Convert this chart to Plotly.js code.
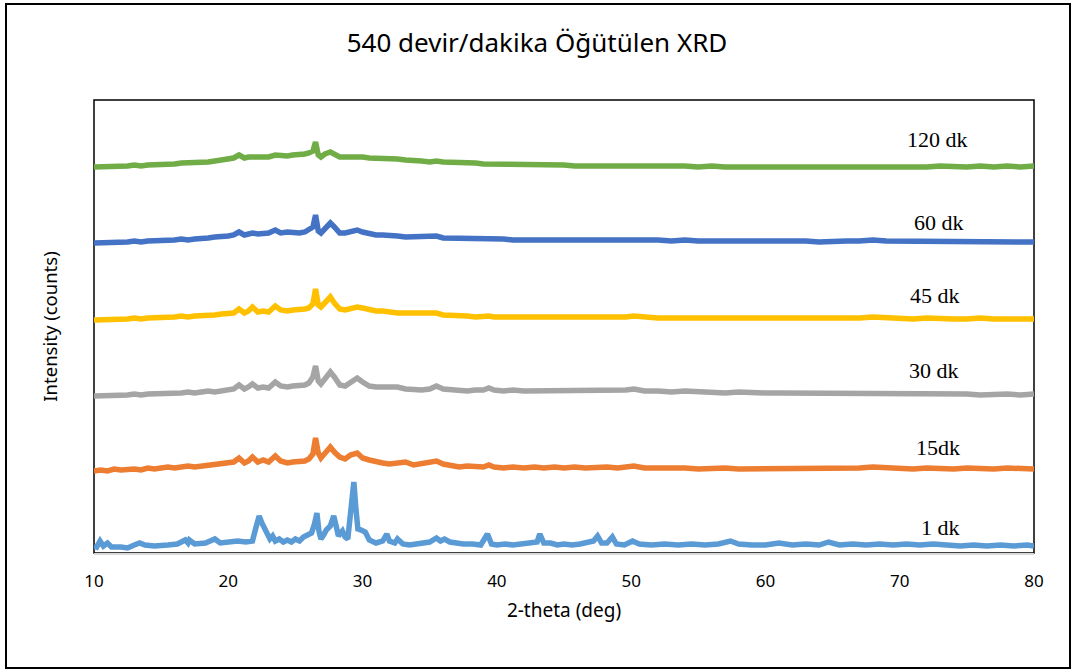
<!DOCTYPE html>
<html><head><meta charset="utf-8">
<script src="https://cdn.plot.ly/plotly-3.0.1.min.js"></script>
<style>
html,body{margin:0;padding:0;background:#fff;}
#chart{width:1074px;height:670px;}
#frame{position:absolute;left:5px;top:3px;width:1062px;height:662px;border:2px solid #000;pointer-events:none;}
</style>
</head><body>
<div id="chart"></div><div id="frame"></div>
<script>
// 2-theta grid shared by the milled samples
const twoTheta = [
 10,10.5,11,11.5,12,12.5,13,13.5,14,14.5,15,15.5,16,16.5,17,17.5,18,18.5,19,19.5,
 20,20.4,20.8,21.2,21.5,21.8,22.2,22.6,23.0,23.5,
 23.9,24.4,24.8,25.3,25.7,26.0,26.3,26.5,26.7,26.9,
 27.2,27.6,27.9,28.3,28.7,29.1,29.6,30.0,30.5,31.0,
 31.5,32.0,32.6,33.2,33.8,34.4,35.0,35.5,36.0,36.6,
 37.2,37.8,38.4,39.0,39.4,39.8,40.5,41.2,42.0,42.8,
 43.5,44.3,45.0,45.8,46.6,47.4,48.2,49.0,49.6,50.2,
 51,52,53,54,55,56,57,58,59,60,
 61,62,63,64,65,66,67,68,69,70,
 71,72,73,74,75,76,77,78,79,80
];
const y15 = [
 82,83,82,84,83,84,84,83,85,84,85,86,85,86,87,86,87,88,88,89,
 90,91,95,90,92,96,91,93,91,97,
 92,90,91,92,92,94,99,115,100,95,
 99,106,101,96,94,98,100,95,93,91,
 90,89,90,91,88,89,90,92,89,87,
 86,87,86,86,88,86,85,86,85,86,
 85,86,85,86,85,86,86,85,86,87,
 85,85,86,85,84,85,85,84,84,85,
 84,85,84,84,85,84,85,86,85,84,
 84,85,84,84,85,84,84,85,84,84
];
const y30 = [
 157,157,158,157,158,158,159,158,159,159,160,159,160,160,161,160,161,162,161,162,
 163,164,168,164,166,169,165,166,165,171,
 167,166,167,167,168,170,176,187,172,169,
 174,181,176,168,167,170,175,171,167,166,
 166,165,166,164,163,163,164,167,164,163,
 163,162,163,163,165,163,162,163,162,162,
 162,163,162,162,163,162,163,162,163,164,
 162,162,161,162,161,161,160,161,160,160,
 160,160,159,160,160,159,160,159,159,160,
 159,159,160,159,159,158,159,159,158,159
];
const y45 = [
 233,233,234,233,234,234,235,234,235,235,236,235,236,237,236,237,237,238,238,239,
 239,240,244,240,242,246,241,242,241,247,
 243,242,243,243,244,245,249,264,248,246,
 250,256,250,244,243,244,246,245,243,242,
 242,241,240,240,240,239,239,240,238,238,
 237,237,236,237,237,236,236,236,235,236,
 235,236,235,235,236,235,235,236,236,237,
 236,235,235,235,234,235,234,235,234,235,
 234,235,234,234,235,234,235,236,235,234,
 234,235,234,234,234,235,234,234,234,234
];
const y60 = [
 310,310,311,310,311,311,312,311,312,312,313,312,313,314,313,314,314,315,316,316,
 317,318,321,318,319,320,319,319,320,323,
 320,321,320,320,321,323,326,338,322,320,
 325,330,326,320,320,321,323,321,319,318,
 318,317,317,316,316,316,316,317,315,315,
 315,314,314,314,315,314,314,313,313,314,
 313,313,313,314,313,313,313,313,313,314,
 313,313,312,313,312,312,313,312,312,312,
 312,312,312,311,312,312,312,313,312,312,
 311,312,311,311,312,311,311,311,311,311
];
const y120 = [
 386,386,386,387,387,387,388,387,388,388,389,389,389,390,390,390,391,391,392,393,
 394,395,398,395,396,396,396,397,396,398,
 397,397,398,398,399,400,402,411,398,396,
 399,401,399,396,396,396,397,396,395,395,
 395,394,394,393,393,392,391,392,391,391,
 390,390,390,389,389,389,389,388,388,388,
 388,388,388,387,387,387,387,387,387,388,
 387,387,387,387,386,387,386,386,386,386,
 386,386,386,386,385,386,386,386,386,386,
 386,386,387,386,386,387,386,387,386,387
];
// 1 dk sample (crystalline peaks)
const twoTheta1 = [
 10.0,10.2,10.45,10.7,11.0,11.3,12.0,12.5,13.0,13.4,13.8,14.5,15.5,16.2,16.8,17.0,17.1,17.5,18.3,19.0,
 19.4,20.0,20.7,21.3,21.8,22.05,22.3,22.5,22.7,22.9,23.1,23.3,23.5,23.8,24.1,24.4,24.7,25.0,25.3,25.6,
 25.9,26.2,26.4,26.6,26.75,26.9,27.1,27.3,27.6,27.85,28.05,28.2,28.5,28.7,28.9,29.15,29.35,29.5,29.65,29.9,
 30.2,30.5,31.0,31.5,31.8,32.0,32.4,32.6,33.0,33.5,34.0,34.5,35.0,35.5,35.8,36.1,36.5,37.0,37.5,38.2,
 38.8,39.3,39.6,40.0,40.6,41.2,41.8,42.5,43.0,43.2,43.5,44.0,44.5,45.0,45.6,46.2,46.8,47.2,47.5,47.8,
 48.2,48.6,48.9,49.5,50.1,50.6,51.5,52.5,53.5,54.5,55.5,56.5,57.4,58.0,59.0,60.0,61.0,62.0,63.0,64.0,
 64.7,65.5,66.5,67.5,68.5,69.5,70.5,71.5,72.5,73.5,74.5,75.5,76.5,77.5,78.5,79.5,80.0
];
const y1 = [
 7,6,12,7,10,6,6,5,8,10,8,7,8,9,13,10,13,9,10,14,
 10,11,12,11,12,25,37,30,24,18,14,17,12,14,11,13,11,14,12,16,
 18,20,28,40,22,14,18,23,27,37,26,17,22,16,14,40,71,45,24,23,
 21,13,10,12,19,12,10,14,9,8,9,10,11,15,12,14,11,10,9,9,
 8,19,9,8,9,8,9,10,11,19,10,10,8,9,8,9,11,12,17,10,
 10,16,9,8,12,9,8,9,8,9,8,9,12,9,8,8,10,8,9,8,
 11,8,9,8,9,8,9,8,9,8,7,8,7,8,7,8,7
];
const seriesLabels = ['1 dk','15dk','30 dk','45 dk','60 dk','120 dk'];
const seriesColors = ['#5B9BD5','#ED7D31','#A5A5A5','#FFC000','#4472C4','#70AD47'];
const labelX = [73.07,72.84,72.55,72.6,72.9,72.84];
const labelY = [26,106,183,258,331,414];
const xTicks = [10,20,30,40,50,60,70,80];

const xs = [twoTheta1, twoTheta, twoTheta, twoTheta, twoTheta, twoTheta];
const ys = [y1, y15, y30, y45, y60, y120];
const traces = ys.map((y,i)=>({
  x: xs[i], y: y, type:'scatter', mode:'lines', name: seriesLabels[i],
  line:{color: seriesColors[i], width:5.5}, hoverinfo:'skip'
}));

const layout = {
  width:1074, height:670,
  margin:{l:94, r:40, t:100, b:117},
  paper_bgcolor:'#fff', plot_bgcolor:'#fff',
  showlegend:false,
  title:{text:'540 devir/dakika Öğütülen XRD', x:0.5, xref:'container', y:1-43/670, yref:'container', yanchor:'middle',
    font:{family:'Noto Sans, Open Sans, sans-serif', size:26, color:'#000'}},
  xaxis:{range:[10,80], tickvals:xTicks, ticktext:xTicks.map(String), showgrid:false, zeroline:false,
    showline:true, linecolor:'#d9d9d9', linewidth:2, ticks:'', ticklabelstandoff:12,
    tickfont:{family:'Noto Sans, Open Sans, sans-serif', size:17, color:'#000'},
    title:{text:'2-theta (deg)', standoff:12, font:{family:'Noto Sans, Open Sans, sans-serif', size:19, color:'#000'}}},
  yaxis:{range:[0,453], showticklabels:false, showgrid:false, zeroline:false, showline:false, ticks:'',
    title:{text:'Intensity (counts)', standoff:30, font:{family:'Noto Sans, Open Sans, sans-serif', size:18.5, color:'#000'}}},
  shapes:[{type:'rect', xref:'paper', yref:'paper', x0:0, x1:1, y0:0, y1:1, line:{color:'#000', width:1.5}, layer:'below'}],
  annotations: seriesLabels.map((t,i)=>({x:labelX[i], y:labelY[i], xref:'x', yref:'y', text:t, showarrow:false,
    xanchor:'center', yanchor:'middle', font:{family:'Liberation Serif, Times New Roman, serif', size:22, color:'#000'}}))
};
Plotly.newPlot('chart', traces, layout, {displayModeBar:false, staticPlot:true});
</script></body></html>
